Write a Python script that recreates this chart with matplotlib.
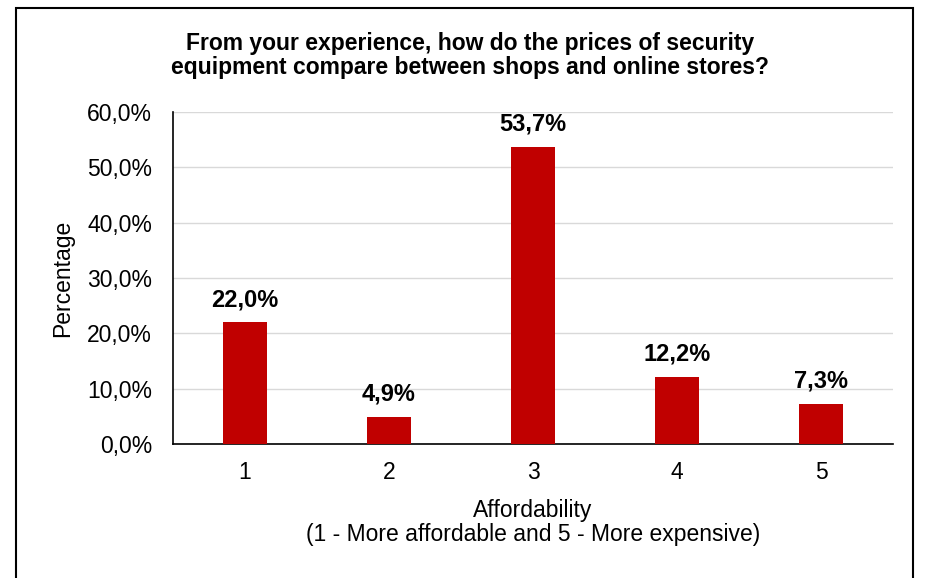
import matplotlib
matplotlib.use("Agg")
import matplotlib.pyplot as plt
from matplotlib.patches import Rectangle
from matplotlib.ticker import FuncFormatter

plt.rcParams["font.family"] = ["Liberation Sans", "DejaVu Sans"]

categories = ["1", "2", "3", "4", "5"]
shares = [22.0, 4.9, 53.7, 12.2, 7.3]
yticks = [0, 10, 20, 30, 40, 50, 60]

BAR = "#C00000"


def pct(v, _=None):
    return f"{v:.1f}%".replace(".", ",")


fig = plt.figure(figsize=(9.28, 5.78), dpi=100)
ax = fig.add_axes([0.1864, 0.2318, 0.7759, 0.5744])

x = range(len(categories))
ax.bar(x, shares, width=0.31, color=BAR, zorder=3)
for xi, v in zip(x, shares):
    ax.annotate(pct(v), (xi, v), xytext=(0, 8), textcoords="offset points",
                ha="center", va="bottom", fontsize=17, fontweight="bold")

ax.set_xlim(-0.5, 4.5)
ax.set_ylim(0, 60)
ax.set_xticks(list(x), categories)
ax.set_yticks(yticks)
ax.yaxis.set_major_formatter(FuncFormatter(pct))
ax.tick_params(axis="both", length=0, labelsize=16.5, colors="black")
ax.tick_params(axis="x", pad=12)
ax.tick_params(axis="y", pad=15)
ax.grid(axis="y", color="#D9D9D9", linewidth=1, zorder=0)
for s in ("top", "right"):
    ax.spines[s].set_visible(False)
for s in ("left", "bottom"):
    ax.spines[s].set_color("black")
    ax.spines[s].set_linewidth(1.2)

ax.set_ylabel("Percentage", fontsize=16.5, va="center")
ax.yaxis.set_label_coords(-0.153, 0.5)
ax.set_xlabel("Affordability\n(1 - More affordable and 5 - More expensive)",
              fontsize=16.5, labelpad=11, linespacing=1.05)

fig.text(0.507, 0.904, "From your experience, how do the prices of security\n"
         "equipment compare between shops and online stores?",
         ha="center", va="center", fontsize=16.5, fontweight="bold", linespacing=1.1)

# outer frame around the chart area
fig.patches.append(Rectangle((16 / 928, -0.01), 897 / 928, 1 - 8 / 578 + 0.01,
                             transform=fig.transFigure, fill=False,
                             edgecolor="black", linewidth=1.5))

fig.savefig("out.png", dpi=100, facecolor="white")
